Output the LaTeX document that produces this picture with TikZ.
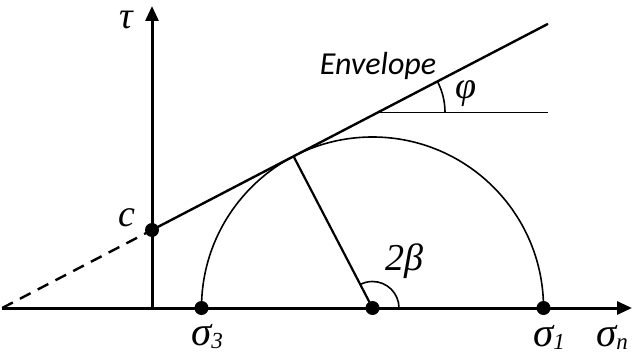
\documentclass[tikz,border=0pt]{standalone}
\usepackage{fontspec}
\setmainfont{Liberation Serif}
\newfontfamily\envfont{Carlito}
\usetikzlibrary{arrows.meta}
\begin{document}
\begin{tikzpicture}[x=1pt,y=1pt,
  axisline/.style={line width=3pt,-{Triangle[length=15pt,width=13pt]}},
  envline/.style={line width=2.4pt},
  thinline/.style={line width=1.6pt},
  radline/.style={line width=2.2pt},
  dotnode/.style={circle,fill=black,inner sep=0pt,minimum size=14pt},
  lbl/.style={font=\fontsize{38}{40}\selectfont\itshape,inner sep=0pt},
  siglbl/.style={font=\fontsize{41}{43}\selectfont\itshape,inner sep=0pt}]
\useasboundingbox (0,0) rectangle (636,356);
\coordinate (S) at (2.2,48);
\coordinate (O) at (152,48);
\coordinate (T) at (293.54,199.68);
\coordinate (E) at (548,332.14);
\coordinate (P) at (378,243.6);
\coordinate (H) at (548,243.6);
\coordinate (XE) at (632,48);
\coordinate (YE) at (152,350);
% circle
\draw[thinline] (543.5,48) arc (0:180:171);
% axes
\draw[axisline] (S) -- (XE);
\draw[axisline] (O) -- (YE);
% dots
\node[dotnode] (c) at (152,126) {};
\node[dotnode] (s3) at (201.5,48) {};
\node[dotnode] (s1) at (543.5,48) {};
\node[dotnode] (m) at (372.5,48) {};
% envelope
\draw[envline,dash pattern=on 12pt off 8pt] (S) -- (c.center);
\draw[envline] (c.center) -- (E);
% radius
\draw[radline] (m.center) -- (T);
% phi
\draw[thinline] (P) -- (H);
\draw[thinline] (P) ++(67,0) arc (0:27.5:67);
% 2beta
\draw[thinline] (m.center) ++(26.5,0) arc (0:117.5:26.5);
% labels
\node[lbl] (tau) at (126,336) {τ};
\node[lbl] (clbl) at (127,138) {c};
\node[lbl] (phi) at (466,262) {φ};
\node[lbl] (beta) at (404,95) {2β};
\node[font=\envfont\fontsize{32}{34}\selectfont\itshape,inner sep=0pt] (env) at (378,290) {Envelope};
\node[siglbl] (l3) at (207,19) {σ{\fontsize{23}{23}\selectfont\raisebox{-3pt}{3}}};
\node[siglbl] (l1) at (549,19) {σ{\fontsize{23}{23}\selectfont\raisebox{-3pt}{1}}};
\node[siglbl] (ln) at (612,19) {σ{\fontsize{23}{23}\selectfont\raisebox{-3pt}{n}}};
\end{tikzpicture}
\end{document}
